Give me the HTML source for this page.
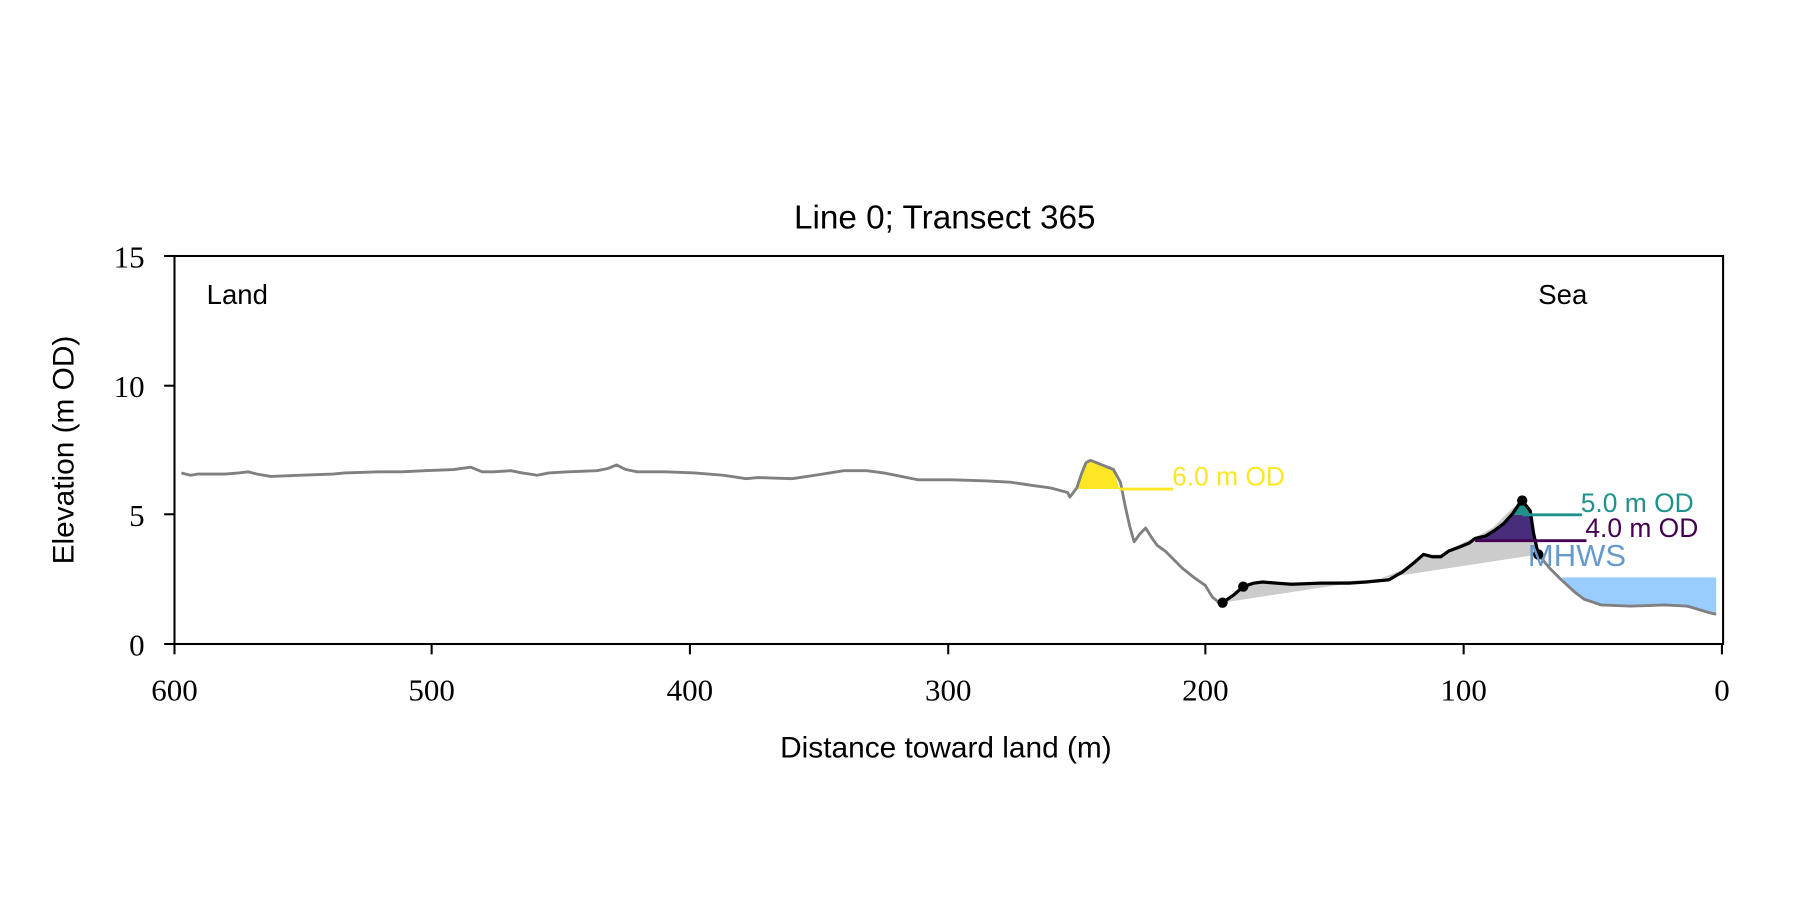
<!DOCTYPE html>
<html><head><style>body{margin:0;background:#fff}svg{display:block}</style></head>
<body>
<svg width="1800" height="900" viewBox="0 0 1568 784" xmlns="http://www.w3.org/2000/svg">
<rect width="1568" height="784" fill="#fff"/>
<!-- fills -->
<polygon points="1065,525 1083,511 1100,507 1150,507 1200,505 1225,495 1240,483 1255,483 1270,475 1285,468 1300,460 1315,445 1326,436 1340,483" fill="#cccccc"/>
<polygon points="938,426 942,413 946,403 950,401 970,409 975,426" fill="#fde725"/>
<polygon points="1285,471 1294,467 1302,462 1310,456 1316,448.5 1334,448.5 1337,471" fill="#472d7b"/>
<polygon points="1316,448.5 1322,441 1326,436 1331,441 1334,448.5" fill="#21918c"/>
<polygon points="1360,503 1495,503 1495,535 1480,531 1460,528 1420,528 1395,527 1380,522 1365,508" fill="#99ccff"/>
<!-- grey profile -->
<polyline fill="none" stroke="#808080" stroke-width="2.5" stroke-linejoin="round" points="158,412 166,414 172,413 180,413 196,413 208,412 216,411 224,413 236,415 260,414 290,413 300,412 330,411 350,411 370,410 395,409 410,407 420,411 430,411 445,410 455,412 468,414 478,412 495,411 520,410 530,408 537,405 545,409 555,411 580,411 605,412 630,414 650,417 660,416 690,417 710,414 735,410 755,410 770,412 800,418 830,418 860,419 880,420 900,423 915,425 930,429 932,433 938,425 942,413 946,403 950,401 970,409 976,420 980,440 984,458 988,472 993,465 998,460 1003,468 1008,475 1015,480 1030,495 1040,503 1050,510 1056,520 1063,526"/>
<polyline fill="none" stroke="#808080" stroke-width="2.5" stroke-linejoin="round" points="1340,483 1350,495 1360,505 1372,516 1380,522 1395,527 1420,528 1450,527 1470,528 1480,531 1490,534 1495,535"/>
<!-- black line -->
<polyline fill="none" stroke="#000" stroke-width="2.8" stroke-linejoin="round" points="1065,525 1075,518 1083,511 1092,508 1100,507 1112,508 1125,509 1150,508 1175,508 1190,507 1210,505 1222,498 1232,490 1240,483 1248,485 1255,485 1262,480 1270,477 1280,473 1285,469 1294,467 1302,462 1310,456 1318,447 1324,438 1326,436 1333,445 1336,465 1340,483"/>
<g fill="#000"><circle cx="1065" cy="525" r="4.5"/><circle cx="1083" cy="511" r="4.5"/><circle cx="1326" cy="436" r="4.5"/><circle cx="1340" cy="483" r="4.5"/></g>
<!-- level lines -->
<line x1="975" y1="426" x2="1022" y2="426" stroke="#fde725" stroke-width="2.5"/>
<line x1="1326" y1="448.5" x2="1378" y2="448.5" stroke="#21918c" stroke-width="2.5"/>
<line x1="1285" y1="471" x2="1382" y2="471" stroke="#440154" stroke-width="2.5"/>
<g font-family="Liberation Sans, DejaVu Sans, sans-serif" font-size="23">
<text x="1021" y="423" fill="#fde725">6.0 m OD</text>
<text x="1377" y="446" fill="#21918c">5.0 m OD</text>
<text x="1381" y="468" fill="#440154">4.0 m OD</text>
<text x="1331" y="493" fill="#6699cc" font-size="27">MHWS</text>
</g>
<!-- axes -->
<rect x="152" y="223" width="1349" height="338" fill="none" stroke="#000" stroke-width="1.8"/>
<g stroke="#000" stroke-width="1.8">
<line x1="152" y1="561" x2="152" y2="570"/><line x1="376" y1="561" x2="376" y2="570"/><line x1="601" y1="561" x2="601" y2="570"/><line x1="826" y1="561" x2="826" y2="570"/><line x1="1050" y1="561" x2="1050" y2="570"/><line x1="1275" y1="561" x2="1275" y2="570"/><line x1="1500" y1="561" x2="1500" y2="570"/>
<line x1="143" y1="223" x2="152" y2="223"/><line x1="143" y1="336" x2="152" y2="336"/><line x1="143" y1="448" x2="152" y2="448"/><line x1="143" y1="561" x2="152" y2="561"/>
</g>
<g font-family="Liberation Serif, DejaVu Serif, serif" font-size="27" text-anchor="middle">
<text x="152" y="610">600</text><text x="376" y="610">500</text><text x="601" y="610">400</text><text x="826" y="610">300</text><text x="1050" y="610">200</text><text x="1275" y="610">100</text><text x="1500" y="610">0</text>
</g>
<g font-family="Liberation Serif, DejaVu Serif, serif" font-size="27" text-anchor="end">
<text x="126" y="233">15</text><text x="126" y="346">10</text><text x="126" y="458">5</text><text x="126" y="571">0</text>
</g>
<g font-family="Liberation Sans, DejaVu Sans, sans-serif" fill="#000">
<text x="823" y="199" font-size="29" text-anchor="middle">Line 0; Transect 365</text>
<text x="824" y="660" font-size="26" text-anchor="middle">Distance toward land (m)</text>
<text transform="translate(64,392) rotate(-90)" font-size="26" text-anchor="middle">Elevation (m OD)</text>
<text x="180" y="265" font-size="24">Land</text>
<text x="1340" y="265" font-size="24">Sea</text>
</g>
</svg>
</body></html>
